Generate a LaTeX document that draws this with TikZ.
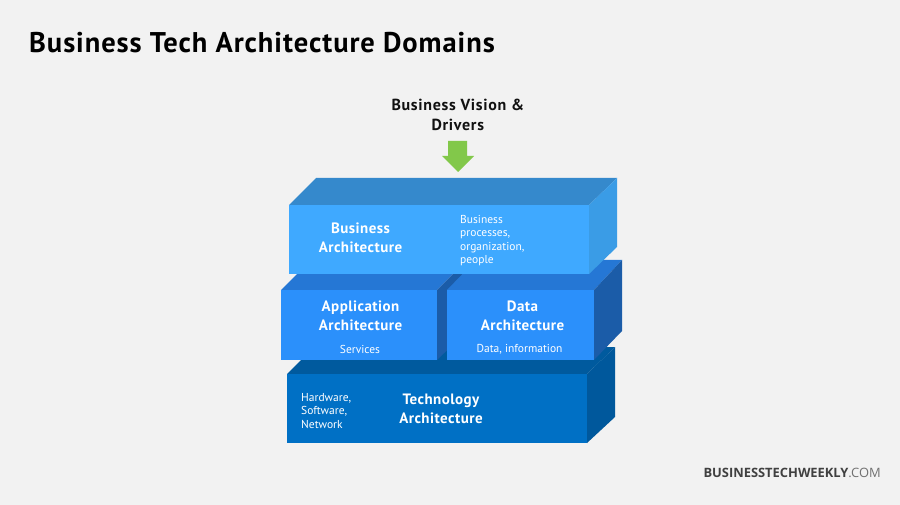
\documentclass[tikz,border=0pt]{standalone}
\usepackage{fontspec}
\setmainfont{PT Sans}
\newfontfamily\markfont{Open Sans}
\newfontfamily\titlefont[LetterSpace=3.3]{PT Sans}
\newfontfamily\visionfont[LetterSpace=4.3]{PT Sans}
\newfontfamily\headfont[LetterSpace=3]{PT Sans}
\definecolor{bgc}{HTML}{F2F2F2}
\definecolor{bizfront}{HTML}{3FA9FF}
\definecolor{biztop}{HTML}{3589CC}
\definecolor{bizside}{HTML}{3A9CE6}
\definecolor{appfront}{HTML}{2B90FB}
\definecolor{apptop}{HTML}{2577D5}
\definecolor{appside}{HTML}{1B5CA8}
\definecolor{techfront}{HTML}{0070C5}
\definecolor{techtop}{HTML}{005A9E}
\definecolor{techside}{HTML}{00589C}
\definecolor{arrowc}{HTML}{82C84A}
\definecolor{inkc}{HTML}{111111}
\definecolor{markc}{HTML}{404040}
\definecolor{markl}{HTML}{707070}
\tikzset{
  head/.style={text=white,font=\headfont\fontsize{15}{18.7}\selectfont\bfseries,align=center,inner sep=0pt},
  sub/.style={text=white,font=\fontsize{11.5}{13.4}\selectfont,align=left,inner sep=0pt},
}
\begin{document}
\begin{tikzpicture}[x=1pt,y=-1pt]
\useasboundingbox (0,0) rectangle (900,505);
\fill[bgc] (0,0) rectangle (900,505);
\node[anchor=west,inner sep=0pt,text=black,font=\titlefont\fontsize{28.5}{32}\selectfont\bfseries] (title) at (29,42.7) {Business Tech Architecture Domains};
\node[align=center,inner sep=0pt,text=inkc,font=\visionfont\fontsize{16}{20}\selectfont\bfseries] (vision) at (457.8,115.2) {Business Vision \&\\Drivers};
\fill[arrowc] (448,141) -- (467,141) -- (467,156) -- (474,156) -- (458,172) -- (442,156) -- (448,156) -- cycle;
% technology
\fill[techtop] (287,374) -- (314,347) -- (615,347) -- (587,374) -- cycle;
\fill[techside] (587,374) -- (615,347) -- (615,417) -- (587,443) -- cycle;
\fill[techfront] (287,374) rectangle (587,443);
% application
\fill[apptop] (281,290) -- (309,262) -- (465,262) -- (437,290) -- cycle;
\fill[appside] (437,290) -- (465,262) -- (465,333) -- (437,360) -- cycle;
\fill[appfront] (281,290) rectangle (437,360);
% data
\fill[apptop] (447,290) -- (476,260) -- (622,260) -- (594,290) -- cycle;
\fill[appside] (594,290) -- (622,260) -- (622,331) -- (594,360) -- cycle;
\fill[appfront] (447,290) rectangle (594,360);
% business
\fill[biztop] (289,205) -- (316,178) -- (617,178) -- (589,205) -- cycle;
\fill[bizside] (589,205) -- (617,178) -- (617,247) -- (589,274) -- cycle;
\fill[bizfront] (289,205) rectangle (589,274);
\node[head] (biz) at (360.5,238) {Business\\Architecture};
\node[sub,anchor=north west] (bizsub) at (460,215) {Business\\processes,\\organization,\\people};
\node[head] (app) at (360.5,316) {Application\\Architecture};
\node[sub] (appsub) at (360,349) {Services};
\node[head] (data) at (522.5,316) {Data\\Architecture};
\node[sub] (datasub) at (519.5,349) {Data, information};
\node[head] (tech) at (441,409) {Technology\\Architecture};
\node[sub,anchor=north west] (techsub) at (301,393) {Hardware,\\Software,\\Network};
\node[anchor=east,inner sep=0pt,font=\fontsize{12.9}{15}\selectfont] (mark) at (881,472.5) {\markfont\textcolor{markc}{\bfseries BUSINESSTECHWEEKLY}\textcolor{markl}{.COM}};
\end{tikzpicture}
\end{document}
